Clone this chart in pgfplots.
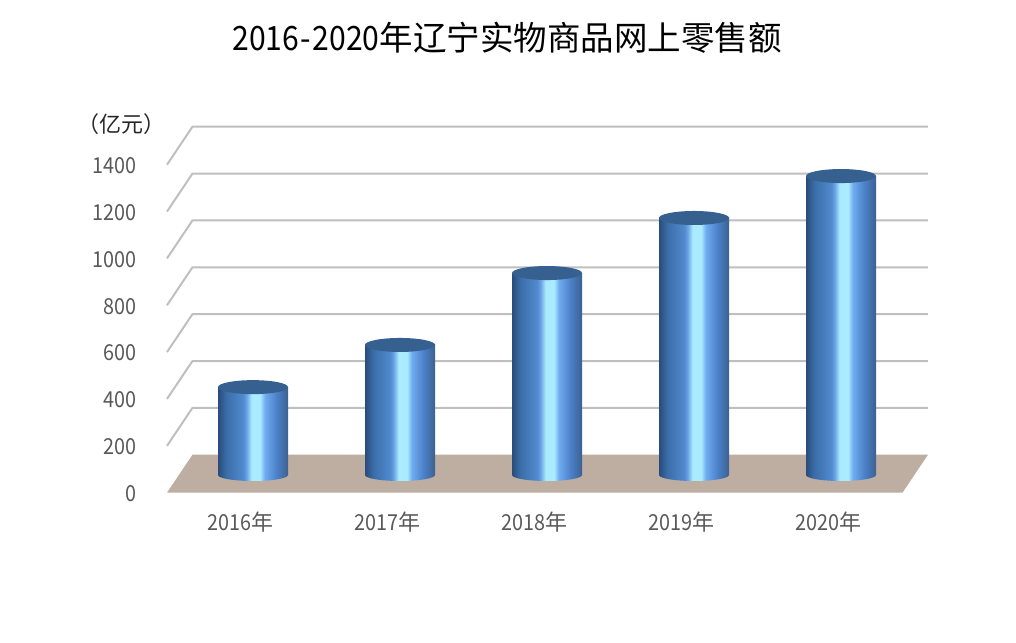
\documentclass[border=0pt]{standalone}
\usepackage{fontspec}
\usepackage{pgfplots}
\pgfplotsset{compat=1.18}
\setmainfont{Noto Sans CJK SC}
\newfontfamily\dg[FakeStretch=0.9]{Noto Sans CJK SC}
\definecolor{tickgray}{HTML}{595959}
\definecolor{gridgray}{HTML}{BFBFBF}
\definecolor{floorc}{HTML}{BEAEA1}
\definecolor{capc}{HTML}{36608F}
\pgfdeclarehorizontalshading{cyl}{100bp}{
 rgb(0bp)=(0.16,0.30,0.48);
 rgb(25bp)=(0.16,0.30,0.48);
 rgb(31bp)=(0.23,0.43,0.66);
 rgb(43bp)=(0.32,0.54,0.81);
 rgb(45.5bp)=(0.42,0.64,0.90);
 rgb(49bp)=(0.67,0.92,1.00);
 rgb(55bp)=(0.67,0.92,1.00);
 rgb(58.5bp)=(0.44,0.67,0.94);
 rgb(67bp)=(0.29,0.50,0.78);
 rgb(75bp)=(0.24,0.38,0.57);
 rgb(100bp)=(0.24,0.38,0.57)}
\pgfdeclareplotmark{cylbase}{%
  \pgfpathellipse{\pgfpointorigin}{\pgfqpoint{35pt}{0pt}}{\pgfqpoint{0pt}{6pt}}%
  \pgfshadepath{cyl}{0}\pgfusepath{discard}}
\pgfdeclareplotmark{cylcap}{%
  \pgfpathellipse{\pgfpointorigin}{\pgfqpoint{35pt}{0pt}}{\pgfqpoint{0pt}{7pt}}%
  \pgfsetfillcolor{capc}\pgfusepathqfill}
\pgfplotstableread{
x v
0 375
1 555
2 862
3 1097
4 1276
}\vals
\pgfplotstableread{
x v
0 0
1 0
2 0
3 0
4 0
}\bases
\begin{document}
\begin{tikzpicture}[x=1pt,y=1pt]
\path[use as bounding box] (0,0) rectangle (1016,642);
\begin{axis}[
  at={(167pt,149.3pt)},anchor=south west,
  scale only axis,width=735.5pt,height=328pt,
  axis lines=none,clip=false,
  xmin=-0.5,xmax=4.5,ymin=0,ymax=1400,
]
\addplot[fill=floorc,draw=none] coordinates {(-0.5,0)(-0.327,162)(4.673,162)(4.5,0)} -- cycle;
\pgfplotsinvokeforeach{200,400,...,1400}{
  \addplot[gridgray,line width=2pt] coordinates {(-0.5,#1)(-0.327,#1+162)(4.673,#1+162)};
}
\end{axis}
\begin{axis}[
  at={(167pt,149.3pt)},anchor=south west,
  scale only axis,width=735.5pt,height=328pt,
  clip=false,
  axis x line=bottom,axis y line=left,
  x axis line style={draw=none},y axis line style={draw=none},
  major tick length=0pt,
  xmin=-0.5,xmax=4.5,ymin=0,ymax=1400,
  xtick={0,1,2,3,4},
  xticklabels={{\dg 2016}年,{\dg 2017}年,{\dg 2018}年,{\dg 2019}年,{\dg 2020}年},
  ytick={0,200,...,1400},
  /pgf/number format/assume math mode=true,
  /pgf/number format/1000 sep={},
  tick label style={text=tickgray,font=\fontsize{22}{24}\selectfont},
  yticklabel style={font=\fontsize{22}{24}\dg,anchor=east,xshift=-27pt,yshift=-1pt},
  xticklabel style={anchor=center,yshift=-29pt},
  title={{\dg 2016\kern1.5pt-\kern1.5pt2020}年辽宁实物商品网上零售额},
  title style={at={(0.4623,1.37)},anchor=center,font=\fontsize{33.5}{38}\selectfont,text=black},
]
\addplot[draw=none,mark=none] coordinates {(0,0)};
\node[font=\fontsize{22}{24}\selectfont,text=black!85] at (rel axis cs:-0.062,1.125) {（亿元）};
\end{axis}
\begin{axis}[
  at={(179.5pt,167pt)},anchor=south west,
  scale only axis,width=735pt,height=328pt,
  axis lines=none,clip=false,
  xmin=-0.5,xmax=4.5,ymin=0,ymax=1400,
  every axis plot/.append style={forget plot},
]
\addplot[only marks,mark=cylbase] table[x=x,y=v] {\bases};
\addplot[ybar,bar shift=0pt,bar width=70pt,draw=none,shading=cyl] coordinates {(0,375)};
\addplot[ybar,bar shift=0pt,bar width=70pt,draw=none,shading=cyl] coordinates {(1,555)};
\addplot[ybar,bar shift=0pt,bar width=70pt,draw=none,shading=cyl] coordinates {(2,862)};
\addplot[ybar,bar shift=0pt,bar width=70pt,draw=none,shading=cyl] coordinates {(3,1097)};
\addplot[ybar,bar shift=0pt,bar width=70pt,draw=none,shading=cyl] coordinates {(4,1276)};
\addplot[only marks,mark=cylcap] table[x=x,y=v] {\vals};
\end{axis}
\end{tikzpicture}
\end{document}
